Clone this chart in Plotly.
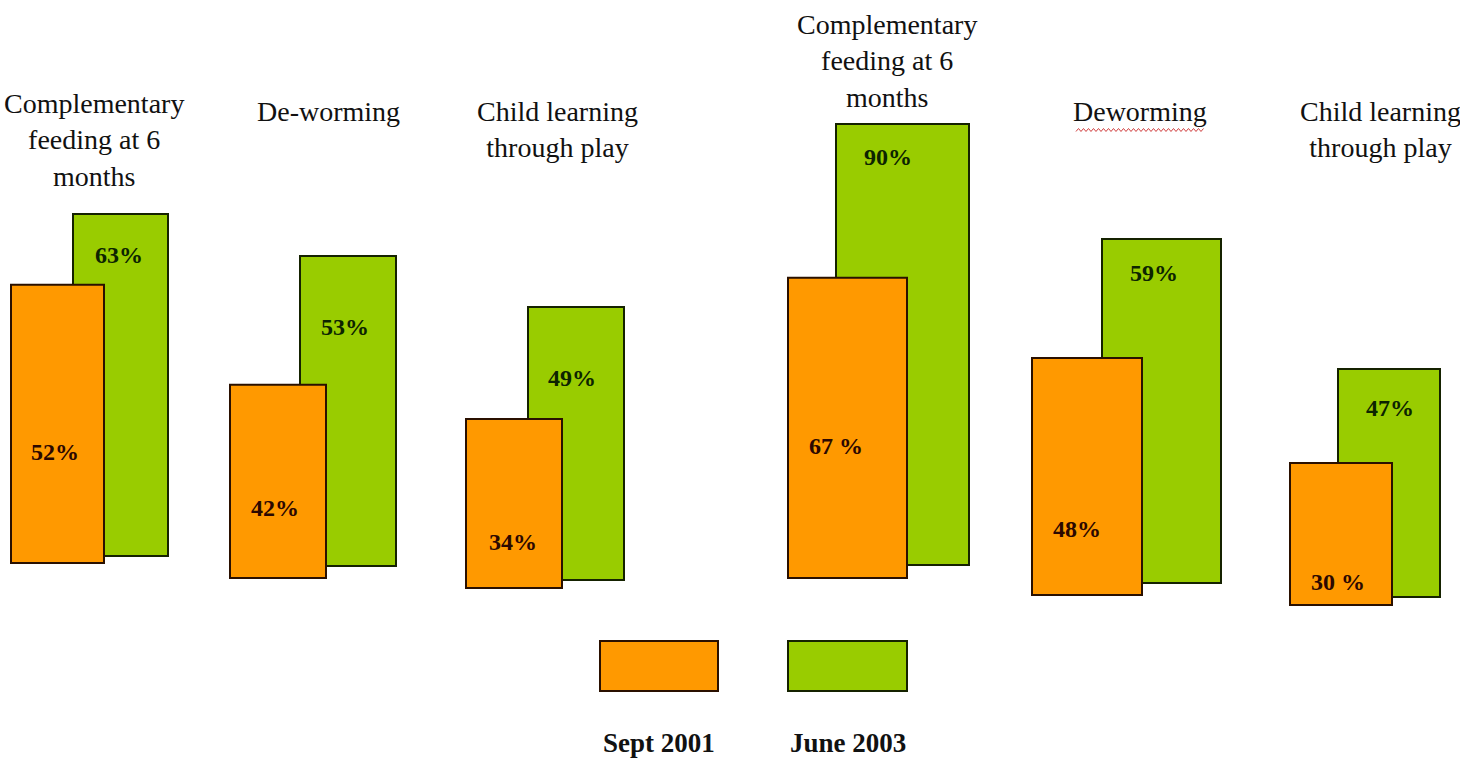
import plotly.graph_objects as go

# ---------------- data ----------------
TOPICS = [
    "Complementary<br>feeding at 6<br>months",
    "De-worming",
    "Child learning<br>through play",
    "Complementary<br>feeding at 6<br>months",
    "Deworming",
    "Child learning<br>through play",
]
SERIES = ["Sept 2001", "June 2003"]
SEPT_2001 = [52, 42, 34, 67, 48, 30]
JUNE_2003 = [63, 53, 49, 90, 59, 47]
SEPT_LABELS = ["52%", "42%", "34%", "67 %", "48%", "30 %"]
JUNE_LABELS = ["63%", "53%", "49%", "90%", "59%", "47%"]

# ---------------- layout / style constants (pixels of the 1460x758 page) ----------------
W, H = 1460, 758
SEPT_X_PX = [(11, 104), (230, 326), (466, 562), (788, 907), (1032, 1142), (1290, 1392)]
JUNE_X_PX = [(73, 168), (300, 396), (528, 624), (836, 969), (1102, 1221), (1338, 1440)]
SEPT_BASE_PX = [563, 578, 588, 578, 595, 605]
JUNE_BASE_PX = [556, 566, 580, 565, 583, 597]
SEPT_SCALE = [5.35, 4.60, 4.97, 4.48, 4.94, 4.73]   # px per percentage point
JUNE_SCALE = [5.43, 5.85, 5.57, 4.90, 5.83, 4.85]
SEPT_LABEL_FRAC = [0.40, 0.36, 0.27, 0.44, 0.28, 0.16]
JUNE_LABEL_FRAC = [0.88, 0.77, 0.74, 0.925, 0.90, 0.83]
SEPT_LABEL_DX = [-3, -3, -1, -12, -10, -3]
JUNE_LABEL_DX = [-2, -3, -4, -15, -8, 1]
TITLE_CENTER_PX = [(94, 140), (328, 112), (557, 130), (887, 61), (1140, 112), (1380, 130)]
LEGEND_BOX_PX = [(600, 718), (788, 907)]
LEGEND_BOX_Y_PX = (641, 691)
LEGEND_TEXT_Y_PX = 743

ORANGE = "#FF9900"
GREEN = "#99CC00"
ORANGE_EDGE = "#2a1000"
GREEN_EDGE = "#152200"
ORANGE_TEXT = "#2b0800"
GREEN_TEXT = "#0c2400"
SERIF = "Liberation Serif, Times New Roman, serif"

fig = go.Figure()
n = len(TOPICS)


def yrange(base_px, scale):
    return [-(H - base_px) / scale, base_px / scale]


# June 2003 bars first (drawn behind), on y .. y6
for i in range(n):
    l, r = JUNE_X_PX[i]
    ax = "y" if i == 0 else f"y{i + 1}"
    fig.add_trace(go.Bar(
        x=[(l + r) / 2], y=[JUNE_2003[i]], width=[r - l], name=SERIES[1],
        marker=dict(color=GREEN, line=dict(color=GREEN_EDGE, width=2)),
        yaxis=ax, xaxis="x", showlegend=False, hoverinfo="skip",
    ))
# Sept 2001 bars (drawn in front), on y7 .. y12
for i in range(n):
    l, r = SEPT_X_PX[i]
    ax = f"y{i + 7}"
    fig.add_trace(go.Bar(
        x=[(l + r) / 2], y=[SEPT_2001[i]], width=[r - l], name=SERIES[0],
        marker=dict(color=ORANGE, line=dict(color=ORANGE_EDGE, width=2)),
        yaxis=ax, xaxis="x", showlegend=False, hoverinfo="skip",
    ))

layout = dict(
    width=W, height=H, autosize=False,
    margin=dict(l=0, r=0, t=0, b=0, pad=0),
    paper_bgcolor="white", plot_bgcolor="white",
    barmode="overlay", showlegend=False,
    xaxis=dict(range=[0, W], domain=[0, 1], visible=False, fixedrange=True),
)
for i in range(n):
    key = "yaxis" if i == 0 else f"yaxis{i + 1}"
    d = dict(range=yrange(JUNE_BASE_PX[i], JUNE_SCALE[i]), domain=[0, 1], visible=False,
             fixedrange=True)
    if i > 0:
        d["overlaying"] = "y"
    layout[key] = d
for i in range(n):
    layout[f"yaxis{i + 7}"] = dict(range=yrange(SEPT_BASE_PX[i], SEPT_SCALE[i]), domain=[0, 1],
                                   visible=False, overlaying="y", fixedrange=True)
fig.update_layout(**layout)

annotations = []
# value labels
for i in range(n):
    l, r = JUNE_X_PX[i]
    annotations.append(dict(
        x=(l + r) / 2 + JUNE_LABEL_DX[i], y=JUNE_2003[i] * JUNE_LABEL_FRAC[i],
        xref="x", yref="y" if i == 0 else f"y{i + 1}", text=f"<b>{JUNE_LABELS[i]}</b>",
        showarrow=False, font=dict(family=SERIF, size=24, color=GREEN_TEXT),
        xanchor="center", yanchor="middle"))
    l, r = SEPT_X_PX[i]
    annotations.append(dict(
        x=(l + r) / 2 + SEPT_LABEL_DX[i], y=SEPT_2001[i] * SEPT_LABEL_FRAC[i],
        xref="x", yref=f"y{i + 7}", text=f"<b>{SEPT_LABELS[i]}</b>",
        showarrow=False, font=dict(family=SERIF, size=24, color=ORANGE_TEXT),
        xanchor="center", yanchor="middle"))
# topic titles
for i in range(n):
    cx, cy = TITLE_CENTER_PX[i]
    annotations.append(dict(
        x=cx / W, y=1 - cy / H, xref="paper", yref="paper", text=TOPICS[i],
        showarrow=False, align="center", xanchor="center", yanchor="middle",
        font=dict(family=SERIF, size=28, color="#111111")))
# legend
shapes = []
for (l, r), col, edge, name in zip(LEGEND_BOX_PX, [ORANGE, GREEN], [ORANGE_EDGE, GREEN_EDGE], SERIES):
    shapes.append(dict(type="rect", xref="paper", yref="paper",
                       x0=l / W, x1=r / W, y0=1 - LEGEND_BOX_Y_PX[1] / H, y1=1 - LEGEND_BOX_Y_PX[0] / H,
                       fillcolor=col, line=dict(color=edge, width=2), layer="above"))
    annotations.append(dict(
        x=(l + r) / 2 / W, y=1 - LEGEND_TEXT_Y_PX / H, xref="paper", yref="paper",
        text=f"<b>{name}</b>", showarrow=False, xanchor="center", yanchor="middle",
        font=dict(family=SERIF, size=27, color="#111111")))

# red spell-check squiggle under "Deworming"
zx0, zx1, zy = 1076, 1205, 130
pts = []
k = 0
x = zx0
while x <= zx1:
    yy = zy + (1.5 if k % 2 == 0 else -1.5)
    pts.append(f"{x / W:.5f},{1 - yy / H:.5f}")
    x += 2.5
    k += 1
shapes.append(dict(type="path", xref="paper", yref="paper", path="M" + " L".join(pts),
                   line=dict(color="#d04040", width=1)))

fig.update_layout(annotations=annotations, shapes=shapes)

fig.write_html("out.html", config={"displayModeBar": False, "staticPlot": True},
               post_script="document.body.style.margin='0';document.body.style.overflow='hidden';")
